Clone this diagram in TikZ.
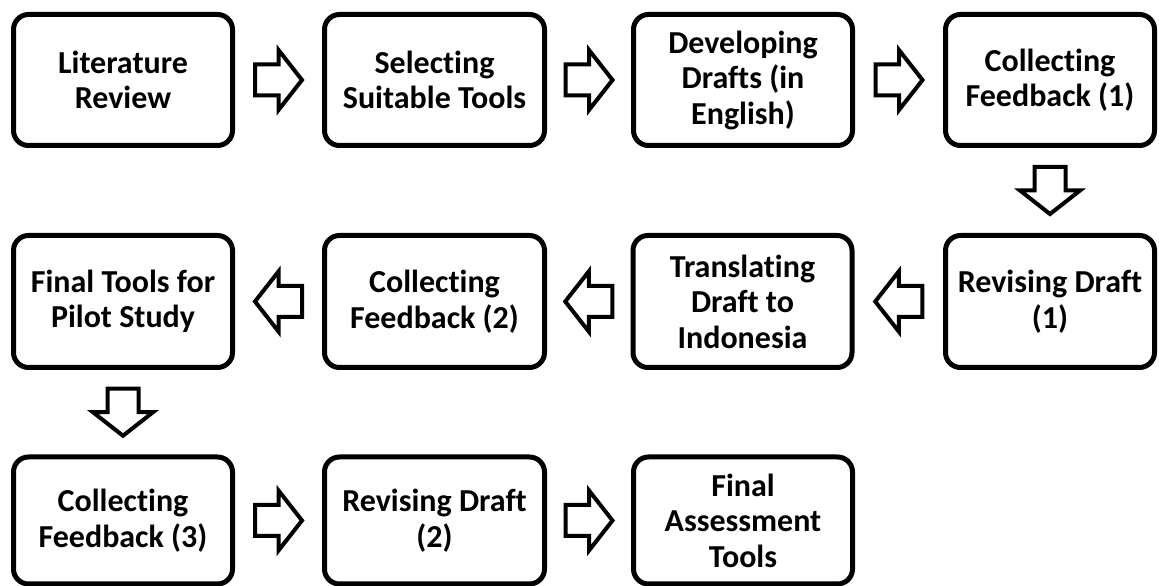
\documentclass[tikz,border=0pt]{standalone}
\usepackage{fontspec}
\setmainfont{Carlito}[RawFeature={-liga}]
\usetikzlibrary{calc}

\tikzset{
  stage/.style={draw, line width=5pt, rounded corners=15pt, align=center,
    font=\fontsize{32}{35.5}\selectfont\bfseries, inner sep=0pt,
    minimum width=#1, minimum height=131pt},
  stage/.default=219pt,
  flow/.pic={
    \draw[line width=4pt, miter limit=10, fill=white]
      (-23.5,15.5) -- (0,15.5) -- (0,30) -- (23.5,0) -- (0,-30)
      -- (0,-15.5) -- (-23.5,-15.5) -- cycle;
  }
}

\begin{document}
\begin{tikzpicture}[x=1pt, y=1pt]
  \useasboundingbox (0,0) rectangle (1159,586);

  % first row
  \node[stage] (lit) at (123,506) {Literature\\Review};
  \node[stage=220pt] (sel) at (434.5,506) {Selecting\\Suitable Tools};
  \node[stage] (dev) at (743,506) {Developing\\Drafts (in\\English)};
  \node[stage=209pt] (fb1) at (1050,506) {Collecting\\Feedback (1)};

  % second row
  \node[stage=209pt, minimum height=132pt] (rev1) at (1050,284.5) {Revising Draft\\(1)};
  \node[stage, minimum height=132pt] (tra) at (742.5,284.5) {Translating\\Draft to\\Indonesia};
  \node[stage=220pt, minimum height=132pt] (fb2) at (434.5,284.5) {Collecting\\Feedback (2)};
  \node[stage, minimum height=132pt] (fin) at (123,284.5) {Final Tools for\\Pilot Study};

  % third row
  \node[stage, minimum height=127pt] (fb3) at (123,65.5) {Collecting\\Feedback (3)};
  \node[stage=220pt, minimum height=127pt] (rev2) at (434.5,65.5) {Revising Draft\\(2)};
  \node[stage, minimum height=127pt] (fat) at (743,65.5) {Final\\Assessment\\Tools};

  % block arrows between the stages
  \pic at ($(lit.east)!0.5!(sel.west)$) {flow};
  \pic at ($(sel.east)!0.5!(dev.west)$) {flow};
  \pic at ($(dev.east)!0.5!(fb1.west)$) {flow};
  \pic[rotate=-90] at ($(fb1.south)!0.5!(rev1.north)$) {flow};
  \pic[rotate=180] at ($(rev1.west)!0.5!(tra.east)$) {flow};
  \pic[rotate=180] at ($(tra.west)!0.5!(fb2.east)$) {flow};
  \pic[rotate=180] at ($(fb2.west)!0.5!(fin.east)$) {flow};
  \pic[rotate=-90] at ($(fin.south)!0.5!(fb3.north)$) {flow};
  \pic at ($(fb3.east)!0.5!(rev2.west)$) {flow};
  \pic at ($(rev2.east)!0.5!(fat.west)$) {flow};
\end{tikzpicture}
\end{document}
